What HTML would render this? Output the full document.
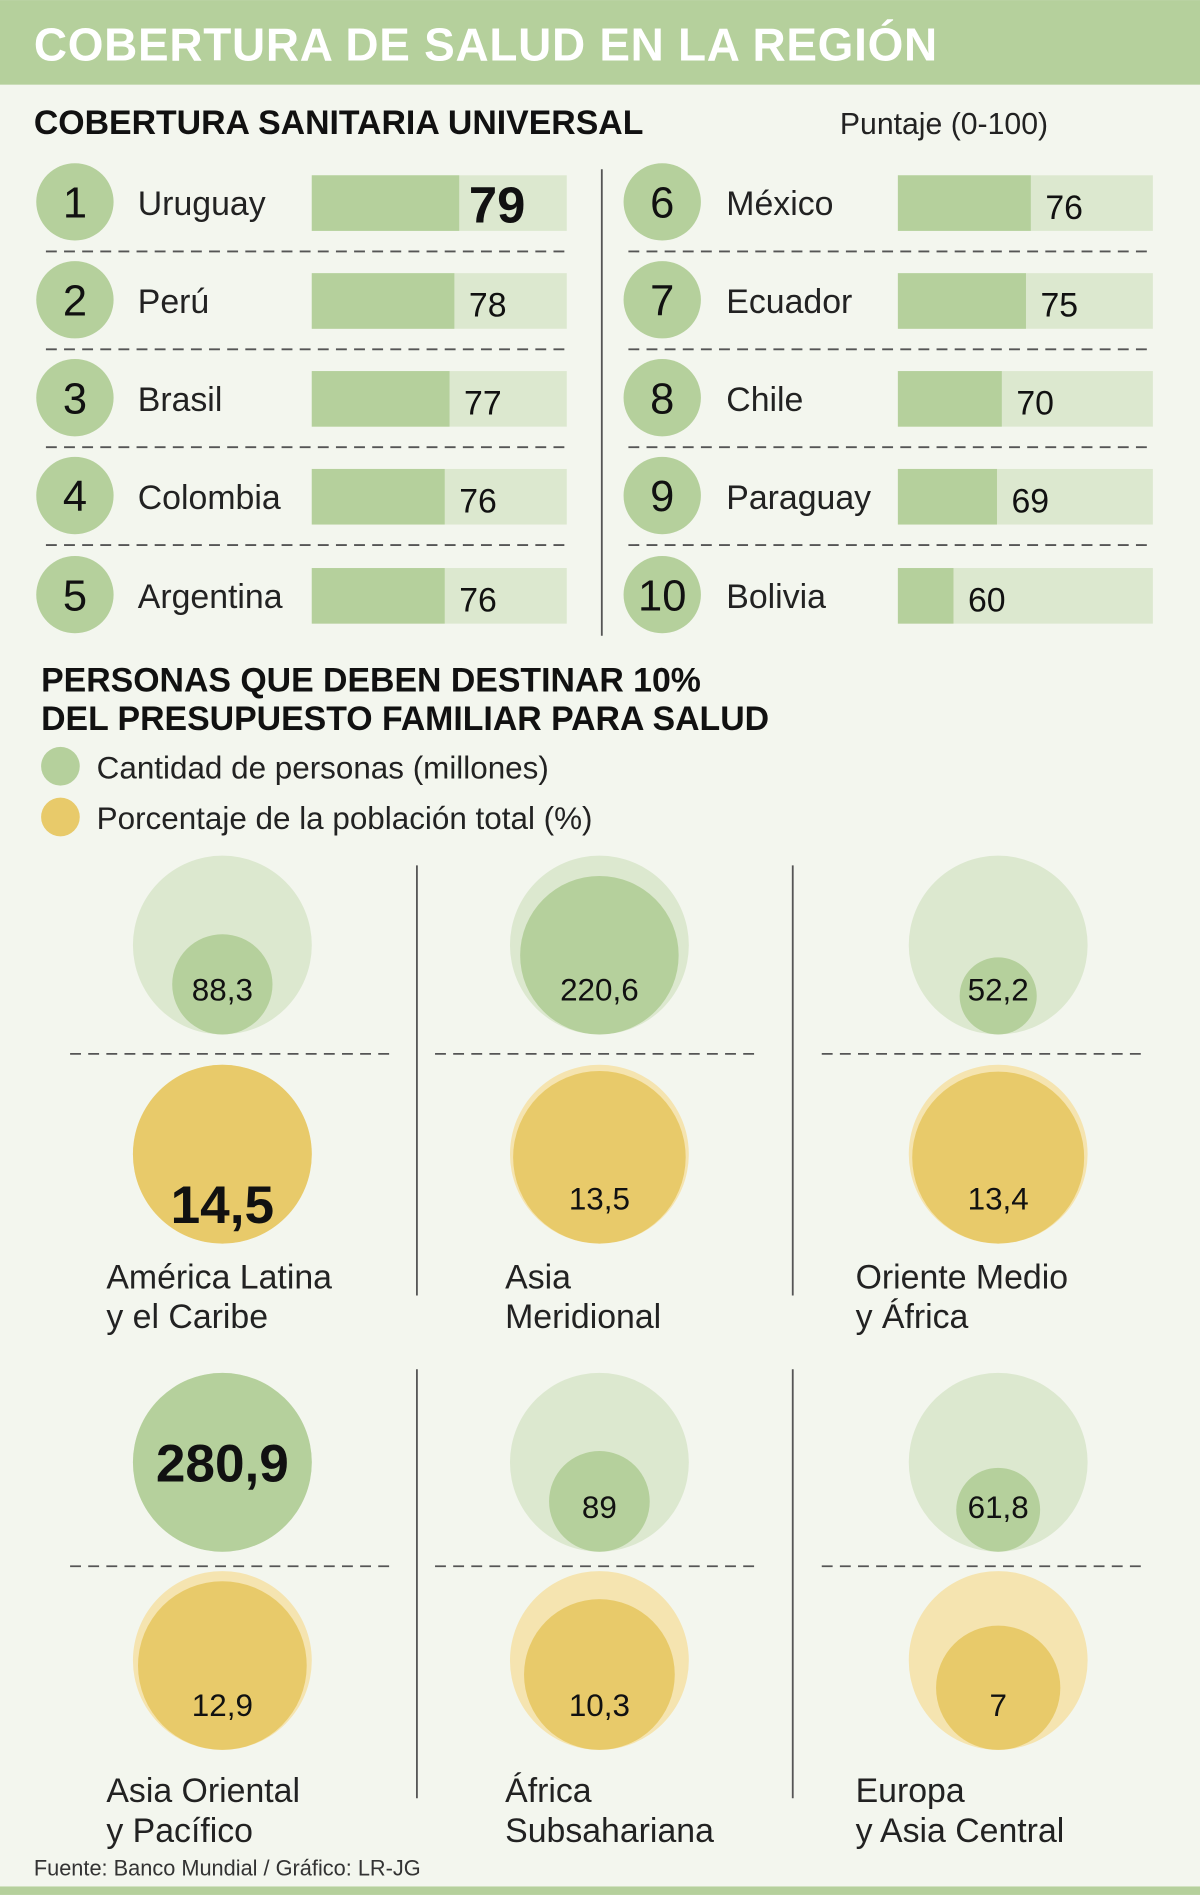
<!DOCTYPE html>
<html><head><meta charset="utf-8"><style>
html,body{margin:0;padding:0;background:#f3f6ee;}
svg{display:block;font-family:"Liberation Sans",sans-serif;}
</style></head><body>
<svg id="chart" width="1200" height="1895" viewBox="0 0 993 1568" xmlns="http://www.w3.org/2000/svg">
<rect x="0" y="0" width="993" height="1568" fill="#f3f6ee"/>
<rect x="0" y="0" width="993" height="70" fill="#b5d09c"/>
<text x="28" y="50" font-size="38" font-weight="bold" fill="#fff" letter-spacing="0.6">COBERTURA DE SALUD EN LA REGIÓN</text>
<text x="28" y="111" font-size="28" font-weight="bold" fill="#111">COBERTURA SANITARIA UNIVERSAL</text>
<text x="695" y="111" font-size="25" fill="#222">Puntaje (0-100)</text>
<line x1="498" y1="140" x2="498" y2="526" stroke="#555" stroke-width="1.5"/>
<g id="rank"></g>
<text x="34" y="572" font-size="28" font-weight="bold" fill="#111">PERSONAS QUE DEBEN DESTINAR 10%</text>
<text x="34" y="604" font-size="28" font-weight="bold" fill="#111">DEL PRESUPUESTO FAMILIAR PARA SALUD</text>
<circle cx="50" cy="634" r="16" fill="#b5d09c"/>
<text x="80" y="644" font-size="26" fill="#222">Cantidad de personas (millones)</text>
<circle cx="50" cy="676" r="16" fill="#e8ca6a"/>
<text x="80" y="686" font-size="26" fill="#222">Porcentaje de la población total (%)</text>
<g id="bubbles"></g>
<text x="28" y="1552" font-size="18" fill="#333">Fuente: Banco Mundial / Gráfico: LR-JG</text>
<rect x="0" y="1561" width="993" height="7" fill="#b5d09c"/>
</svg>
<script>
const countries=["Uruguay","Perú","Brasil","Colombia","Argentina","México","Ecuador","Chile","Paraguay","Bolivia"];
const scores=[79,78,77,76,76,76,75,70,69,60];
const regions=[["América Latina","y el Caribe"],["Asia","Meridional"],["Oriente Medio","y África"],["Asia Oriental","y Pacífico"],["África","Subsahariana"],["Europa","y Asia Central"]];
const people=[88.3,220.6,52.2,280.9,89,61.8];
const percent=[14.5,13.5,13.4,12.9,10.3,7];

const NS="http://www.w3.org/2000/svg";
function mk(tag,attrs,parent,txt){const e=document.createElementNS(NS,tag);for(const k in attrs)e.setAttribute(k,attrs[k]);if(txt!==undefined)e.textContent=txt;parent.appendChild(e);return e;}
const barW=211, sMin=48.5, sMax=101.25;
const xs=v=>(v-sMin)/(sMax-sMin)*barW;
const rank=document.getElementById('rank');
const rowY=[168,249,330,411,493];
countries.forEach((c,i)=>{
  const col=i<5?0:1, r=i%5, cy=rowY[r];
  const cx=col?548:62, nx=col?601:114, bx=col?743:258;
  const g=mk('g',{},rank);
  
  
  const ci=mk('circle',{cx:cx,cy:cy-1,r:32,fill:'#b5d09c'},g);
  
  
  const nt=mk('text',{x:cx,y:cy+12,'font-size':36,'text-anchor':'middle',fill:'#111'},g,String(i+1));
  
  
  const ct=mk('text',{x:nx,y:cy+10,'font-size':28,fill:'#222'},g,c);
  
  
  const bg=mk('rect',{x:bx,y:cy-23,width:barW,height:46,fill:'#dce8cf'},g);
  
  
  const w=xs(scores[i]);
  const b=mk('rect',{x:bx,y:cy-23,width:w,height:46,fill:'#b5d09c'},g);
  
  
  const big=i===0;
  const vt=mk('text',{x:bx+w+(big?8:12),y:cy+(big?16:13),'font-size':big?42:28,'font-weight':big?'bold':'normal',fill:'#111'},g,String(scores[i]));
  
  
  if(r<4){
    const l=mk('line',{x1:col?520:38,x2:col?954:472,y1:cy+40,y2:cy+40,stroke:'#555','stroke-width':1.5,'stroke-dasharray':'9 6'},g);
    
    
  }
});

const bub=document.getElementById('bubbles');
const R=74, pMax=Math.max(...people), qMax=Math.max(...percent);
const colX=[184,496,826], lblX=[88,418,708];
const fmt=v=>String(v).replace('.',',');
function bubble(parent,cx,cy,v,max,light,dark,name,isPct){
  const r=R*Math.sqrt(v/max);
  const o=mk('circle',{cx:cx,cy:cy,r:R,fill:light},parent);
  
  
  const icy=cy+R-r;
  const c=mk('circle',{cx:cx,cy:icy,r:r,fill:dark},parent);
  
  
  const big=v===max;
  const ty=big?(isPct?icy+57:icy+16):cy+R-28;
  const t=mk('text',{x:cx,y:ty,'font-size':big?44:26,'font-weight':big?'bold':'normal','text-anchor':'middle',fill:'#111'},parent,fmt(v));
  
  
}
regions.forEach((rg,i)=>{
  const row=i<3?0:1, col=i%3, cx=colX[col];
  const off=row?424:0;
  const g=mk('g',{},bub);
  
  
  bubble(g,cx,782+off+(row?4:0),people[i],pMax,'#dce8cf','#b5d09c','people',false);
  bubble(g,cx,955+off-(row?5:0),percent[i],qMax,'#f5e4b0','#e8ca6a','percent',true);
  const sx=[58,360,680][col];
  const l=mk('line',{x1:sx,x2:sx+268,y1:872+off,y2:872+off,stroke:'#555','stroke-width':1.5,'stroke-dasharray':'9 6'},g);
  
  
  const t1=mk('text',{x:lblX[col],y:1066+off+(row?1:0),'font-size':28,fill:'#222'},g,rg[0]);
  
  
  const t2=mk('text',{x:lblX[col],y:1099+off+(row?1:0),'font-size':28,fill:'#222'},g,rg[1]);
  
  
});
[[345,716,1072],[656,716,1072],[345,1133,1488],[656,1133,1488]].forEach(d=>{
  const l=mk('line',{x1:d[0],x2:d[0],y1:d[1],y2:d[2],stroke:'#555','stroke-width':1.5},bub);
  
  
});
</script>
</body></html>
